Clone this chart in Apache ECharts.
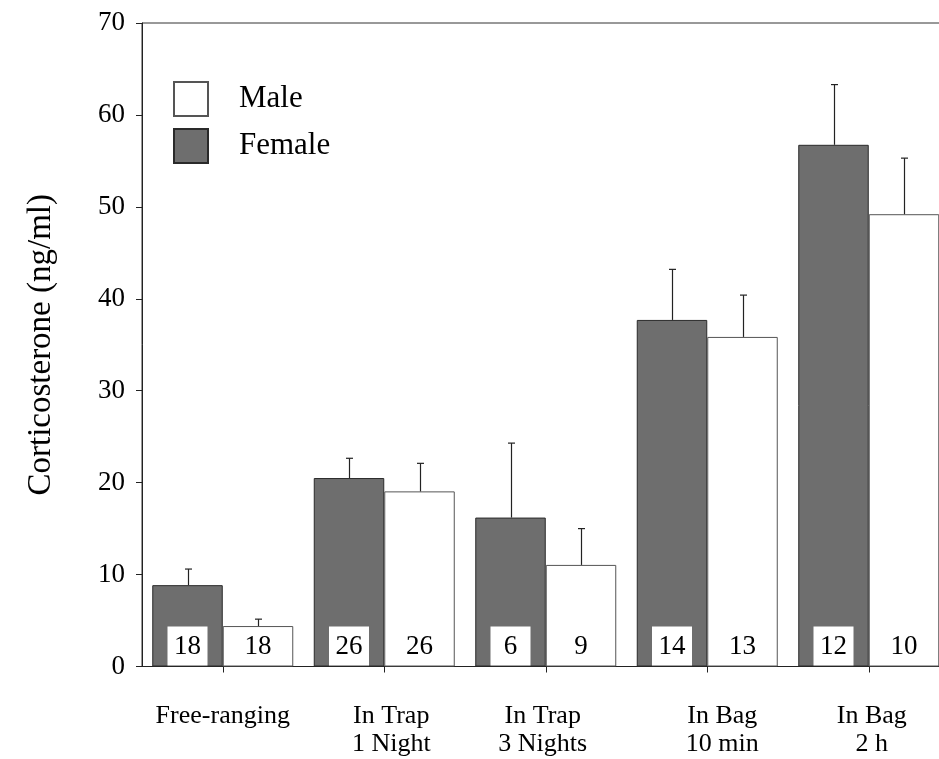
<!DOCTYPE html>
<html>
<head>
<meta charset="utf-8">
<script src="https://cdn.jsdelivr.net/npm/echarts@6/dist/echarts.min.js"></script>
<style>
html,body{margin:0;padding:0;background:#fff;}
#chart{width:939px;height:759px;}
</style>
</head>
<body>
<div id="chart"></div>
<script>
var categories = ['Free-ranging', 'In Trap\n1 Night', 'In Trap\n3 Nights', 'In Bag\n10 min', 'In Bag\n2 h'];
var femaleMean = [8.85, 20.5, 16.2, 37.7, 56.75];
var femaleUpper = [10.6, 22.65, 24.3, 43.2, 63.3];
var maleMean = [4.4, 19.05, 11.05, 35.85, 49.2];
var maleUpper = [5.15, 22.1, 15.0, 40.4, 55.3];
var femaleN = [18, 26, 6, 14, 12];
var maleN = [18, 26, 9, 13, 10];
var yTicks = [0, 10, 20, 30, 40, 50, 60, 70];

var FONT = "'Liberation Serif','Times New Roman',serif";
var BAR_W = 70.5;
// horizontal nudge (px) of each category label, as typeset in the original
var LABEL_NUDGE = [0, 7, -3, 15, 3];

function errData(mean, upper) {
  return mean.map(function (v, i) { return [i, v, upper[i]]; });
}
function errSeries(name, mean, upper, sign) {
  return {
    type: 'custom',
    name: name + ' err',
    z: 5,
    silent: true,
    data: errData(mean, upper),
    encode: { x: 0, y: [1, 2] },
    renderItem: function (params, api) {
      var p0 = api.coord([api.value(0), api.value(1)]);
      var p1 = api.coord([api.value(0), api.value(2)]);
      var x = Math.round(p0[0] + sign * BAR_W / 2) + 0.5;
      var style = { stroke: '#222', lineWidth: 1.2 };
      return {
        type: 'group',
        children: [
          { type: 'line', shape: { x1: x, y1: p0[1], x2: x, y2: p1[1] }, style: style },
          { type: 'line', shape: { x1: x - 3.5, y1: p1[1], x2: x + 3.5, y2: p1[1] }, style: style }
        ]
      };
    }
  };
}

var xData = categories.map(function (c, i) {
  var s = LABEL_NUDGE[i];
  return {
    value: c,
    textStyle: { padding: s >= 0 ? [0, 0, 0, 2 * s] : [0, -2 * s, 0, 0] }
  };
});

var labelBase = {
  show: true,
  position: 'insideBottom',
  distance: 1,
  fontFamily: FONT,
  fontSize: 27,
  color: '#000',
  width: 40,
  lineHeight: 28,
  padding: [6, 0, 5, 0]
};

var chart = echarts.init(document.getElementById('chart'), null, { renderer: 'canvas' });
chart.setOption({
  animation: false,
  backgroundColor: '#fff',
  grid: {
    left: 142, top: 23, width: 807.5, height: 643.5,
    containLabel: false,
    outerBoundsMode: 'none',
    show: true, borderColor: '#333', borderWidth: 1
  },
  legend: {
    data: ['Male', 'Female'],
    orient: 'vertical',
    left: 168, top: 76,
    itemWidth: 34, itemHeight: 34, itemGap: 11,
    icon: 'rect',
    textStyle: { fontFamily: FONT, fontSize: 31, color: '#000', padding: [0, 0, 0, 26] }
  },
  xAxis: {
    type: 'category',
    data: xData,
    axisLine: { lineStyle: { color: '#222', width: 1 } },
    axisTick: { show: true, alignWithLabel: true, length: 6, lineStyle: { color: '#222' } },
    axisLabel: { interval: 0, fontFamily: FONT, fontSize: 26, color: '#000', lineHeight: 28, margin: 36 },
    splitLine: { show: false }
  },
  yAxis: {
    type: 'value',
    min: yTicks[0], max: yTicks[yTicks.length - 1], interval: 10,
    name: 'Corticosterone (ng/ml)',
    nameLocation: 'middle',
    nameGap: 84,
    nameTextStyle: { fontFamily: FONT, fontSize: 33, color: '#000' },
    axisLine: { show: true, lineStyle: { color: '#222', width: 1 } },
    axisTick: { show: true, length: 6, lineStyle: { color: '#222' } },
    axisLabel: { fontFamily: FONT, fontSize: 27, color: '#000', margin: 17 },
    splitLine: { show: false }
  },
  series: [
    {
      name: 'Female', type: 'bar', data: femaleMean,
      barWidth: BAR_W, barGap: '0%',
      itemStyle: { color: '#6e6e6e', borderColor: '#2a2a2a', borderWidth: 1 },
      label: Object.assign({}, labelBase, {
        backgroundColor: '#fff',
        formatter: function (p) { return String(femaleN[p.dataIndex]); }
      }),
      z: 2
    },
    {
      name: 'Male', type: 'bar', data: maleMean,
      barWidth: BAR_W, barGap: '0%',
      itemStyle: { color: '#ffffff', borderColor: '#555', borderWidth: 1 },
      label: Object.assign({}, labelBase, {
        formatter: function (p) { return String(maleN[p.dataIndex]); }
      }),
      z: 2
    },
    errSeries('Female', femaleMean, femaleUpper, -1),
    errSeries('Male', maleMean, maleUpper, 1)
  ]
});
</script>
</body>
</html>
